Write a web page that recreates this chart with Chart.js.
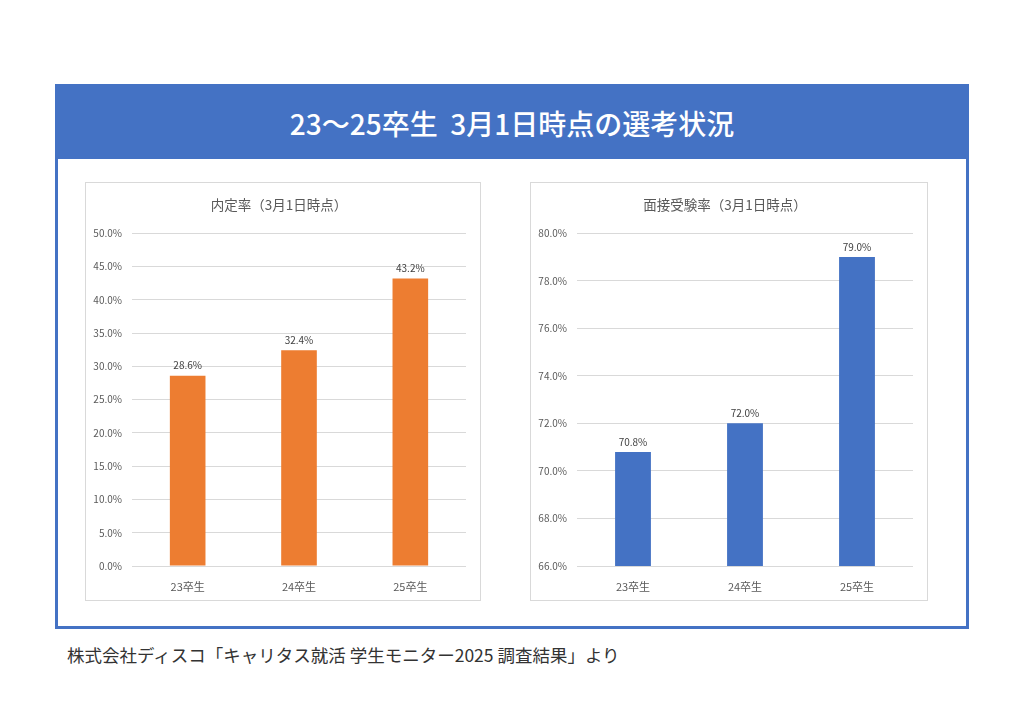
<!DOCTYPE html>
<html lang="ja">
<head>
<meta charset="utf-8">
<script src="https://cdn.jsdelivr.net/npm/chart.js@4"></script>
<style>
  html, body { margin: 0; padding: 0; background: #fff; }
  body { width: 1024px; height: 724px; position: relative; overflow: hidden;
         font-family: "Noto Sans CJK JP", "Noto Sans", sans-serif; }
  .frame { position: absolute; left: 55px; top: 84px; width: 908px; height: 539px;
           border: 3px solid #4472c4; background: #fff; }
  .header { position: absolute; left: 0; top: 0; width: 100%; height: 72px; background: #4472c4;
            color: #fff; font-size: 28px; font-weight: 500; text-align: center; line-height: 72px; }
  .box { position: absolute; top: 182px; width: 396px; height: 419px; border: 1px solid #d9d9d9;
         box-sizing: border-box; background: #fff; }
  .note { position: absolute; left: 67px; top: 642px; font-size: 17.5px; color: #333; }
</style>
</head>
<body>
<div class="frame"><div class="header">23～25卒生&nbsp;&nbsp;3月1日時点の選考状況</div></div>
<div class="box" style="left:85px"><canvas id="naitei"></canvas></div>
<div class="box" style="left:530px;width:398px"><canvas id="mensetsu"></canvas></div>
<div class="note">株式会社ディスコ「キャリタス就活 学生モニター2025 調査結果」より</div>
<script>
const categories = ['23卒生', '24卒生', '25卒生'];
const naiteiRates = [28.6, 32.4, 43.2];
const mensetsuRates = [70.8, 72.0, 79.0];

const FONT = '"Noto Sans CJK JP", "Noto Sans", sans-serif';

// draws the value above every bar
const valueLabels = {
  id: 'valueLabels',
  afterDatasetsDraw(chart) {
    const ctx = chart.ctx;
    ctx.save();
    ctx.font = '10px ' + FONT;
    ctx.fillStyle = '#404040';
    ctx.textAlign = 'center';
    ctx.textBaseline = 'bottom';
    chart.getDatasetMeta(0).data.forEach((bar, i) => {
      const v = chart.data.datasets[0].data[i];
      ctx.fillText(v.toFixed(1) + '%', bar.x, bar.y - 5);
    });
    ctx.restore();
  }
};

function makeChart(id, title, values, color, min, max, step) {
  new Chart(document.getElementById(id), {
    type: 'bar',
    data: {
      labels: categories,
      datasets: [{ data: values, backgroundColor: color, barPercentage: 0.64, categoryPercentage: 0.5 }]
    },
    options: {
      responsive: true,
      maintainAspectRatio: false,
      animation: false,
      layout: { padding: { left: 6, right: 14, top: 8, bottom: 4 } },
      plugins: {
        legend: { display: false },
        tooltip: { enabled: false },
        title: {
          display: true, text: title, color: '#595959',
          font: { family: FONT, size: 13.5, weight: 'normal' },
          padding: { top: 6, bottom: 20 }
        }
      },
      scales: {
        x: {
          grid: { display: false },
          border: { display: false },
          ticks: { color: '#595959', font: { family: FONT, size: 11 }, padding: 6 },
          afterFit(s) { s.height = 30; }
        },
        y: {
          min: min, max: max,
          grid: { color: '#d9d9d9', drawTicks: false },
          border: { display: false },
          ticks: {
            stepSize: step, color: '#595959', padding: 10,
            font: { family: FONT, size: 10 },
            callback: v => v.toFixed(1) + '%'
          },
          afterFit(s) { s.width = 40; }
        }
      }
    },
    plugins: [valueLabels]
  });
}

makeChart('naitei', '内定率（3月1日時点）', naiteiRates, '#ed7d31', 0, 50, 5);
makeChart('mensetsu', '面接受験率（3月1日時点）', mensetsuRates, '#4472c4', 66, 80, 2);
</script>
</body>
</html>
